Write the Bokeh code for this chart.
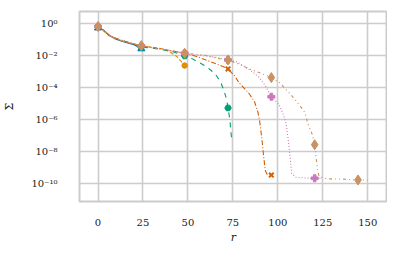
from bokeh.plotting import figure
from bokeh.models import FixedTicker, CustomJSTickFormatter, Range1d
from bokeh.embed import file_html
from bokeh.resources import INLINE

# ---- data ----
MARK_R = [0, 24.1, 48.2, 72.3, 96.4, 120.5, 144.6]

r_a = [0, 3, 6, 9, 12, 16, 20, 24.1]
s_a = [0.501, 0.380, 0.178, 0.112, 0.0832, 0.0603, 0.0447, 0.0251]

r_b = [0, 3, 6, 9, 12, 16, 20, 24.1, 30, 36, 40, 44, 48.2]
s_b = [0.617, 0.331, 0.166, 0.126, 0.0891, 0.0676, 0.0501, 0.0355, 0.0316, 0.0251, 0.0158, 0.00794, 0.00224]

r_c = [0, 3, 6, 9, 12, 16, 20, 24.1, 30, 36, 42, 48.2, 52, 56, 60, 63, 66, 68.4, 70, 71.6, 72.3, 73.3, 74, 74.5]
s_c = [0.617, 0.355, 0.186, 0.120, 0.0912, 0.0661, 0.0501, 0.0316, 0.0282, 0.0219, 0.0158, 0.00891,
       0.00631, 0.00355, 0.00200, 0.00110, 5.01e-4, 1.78e-4, 6.31e-5, 1.58e-5, 5.01e-6, 1.0e-6, 1.26e-7, 3.98e-8]

r_d = [0, 3, 6, 9, 12, 16, 20, 24.1, 30, 36, 42, 48.2, 54, 60, 66, 72.3, 76, 78.6, 82, 84, 87, 89, 90,
       91.2, 92.1, 93, 94, 96.4, 97]
s_d = [0.617, 0.355, 0.186, 0.120, 0.0912, 0.0661, 0.0501, 0.0380, 0.0295, 0.0234, 0.0178, 0.0132,
       0.00891, 0.00501, 0.00282, 0.00138, 5.01e-4, 1.78e-4, 7.08e-5, 3.98e-5, 1.26e-5, 2.51e-6, 6.31e-7,
       5.01e-8, 5.01e-9, 6.31e-10, 3.55e-10, 3.16e-10, 3.16e-10]

r_e = [0, 3, 6, 9, 12, 16, 20, 24.1, 30, 36, 42, 48.2, 54, 60, 66, 72.3, 76.7, 82, 86, 89.7, 93, 96.4,
       100.8, 103, 104.6, 105.8, 106.8, 107.7, 110, 115, 120.5, 124]
s_e = [0.617, 0.355, 0.186, 0.120, 0.0912, 0.0661, 0.0501, 0.0380, 0.0295, 0.0234, 0.0178, 0.0132,
       0.0105, 0.00891, 0.00708, 0.00501, 0.00398, 0.00178, 8.91e-4, 3.98e-4, 1.26e-4, 2.51e-5,
       7.94e-6, 2.0e-6, 5.62e-7, 5.01e-8, 5.01e-9, 3.98e-10, 2.34e-10, 2.09e-10, 2.0e-10, 2.0e-10]

r_f = [0, 3, 6, 9, 12, 16, 20, 24.1, 30, 36, 42, 48.2, 54, 59, 65.6, 72.3, 78, 84, 90, 96.4, 100.8, 107,
       110, 112.9, 115.1, 116.6, 119.3, 120.5, 121.2, 122.1, 123, 127.7, 136, 144.6, 150]
s_f = [0.617, 0.355, 0.186, 0.120, 0.0912, 0.0661, 0.0501, 0.0398, 0.0295, 0.0234, 0.0178, 0.0132,
       0.0117, 0.0105, 0.00646, 0.00501, 0.00282, 0.00141, 7.94e-4, 3.98e-4, 2.0e-4, 3.63e-5,
       1.45e-5, 5.62e-6, 2.51e-6, 5.62e-7, 1.0e-7, 2.51e-8, 5.01e-9, 6.31e-10, 2.51e-10, 1.86e-10,
       1.78e-10, 1.58e-10, 1.58e-10]

x_ticks = [0, 25, 50, 75, 100, 125, 150]
y_ticks = [1e-10, 1e-8, 1e-6, 1e-4, 1e-2, 1e0]

SERIES = [
    (r_a, s_a, "#0173b2", "solid", "triangle", 7),
    (r_b, s_b, "#de8f05", "4 2", "circle", 5.5),
    (r_c, s_c, "#029e73", "5 5", "hex", 6.5),
    (r_d, s_d, "#d55e00", "5 2 1 2", "x", 6.5),
    (r_e, s_e, "#cc78bc", "1 2", "plus", 7),
    (r_f, s_f, "#ca9161", "3 3 1 3 1 3", "diamond", 10),
]

FONT = "DejaVu Serif"

p = figure(width=385, height=243, frame_width=308, frame_height=190,
           y_axis_type="log", output_backend="svg", toolbar_location=None,
           x_range=Range1d(-10.3, 161), y_range=Range1d(10 ** -11.15, 10 ** 0.73),
           min_border_left=77, min_border_right=0, min_border_top=11, min_border_bottom=42)

for rs, ss, col, dash, mk, sz in SERIES:
    p.line(rs, ss, line_color=col, line_width=1.1, line_dash=dash)
    idx = [i for i, r in enumerate(rs) if r in MARK_R]
    mx = [rs[i] for i in idx]
    my = [ss[i] for i in idx]
    if mk == "x":
        p.scatter(mx, my, marker=mk, size=sz, line_color=col, line_width=2)
    else:
        p.scatter(mx, my, marker=mk, size=sz, fill_color=col, line_color=col)

p.xaxis.ticker = FixedTicker(ticks=x_ticks)
p.yaxis.ticker = FixedTicker(ticks=y_ticks, minor_ticks=[])
p.yaxis.formatter = CustomJSTickFormatter(code="""
const e = Math.round(Math.log10(tick));
const sup = {'-':'\u207b','0':'\u2070','1':'\u00b9','2':'\u00b2','3':'\u00b3','4':'\u2074',
             '5':'\u2075','6':'\u2076','7':'\u2077','8':'\u2078','9':'\u2079'};
return '10' + String(e).split('').map(c => sup[c]).join('');
""")

for ax in (p.xaxis[0], p.yaxis[0]):
    ax.axis_line_color = None
    ax.major_tick_line_color = None
    ax.minor_tick_line_color = None
    ax.major_label_text_font = FONT
    ax.major_label_text_font_size = "10px"
    ax.major_label_text_color = "#222222"
    ax.axis_label_text_font = FONT
    ax.axis_label_text_font_size = "11px"
    ax.axis_label_text_font_style = "normal"
    ax.axis_label_text_color = "#222222"

p.xaxis.axis_label = "r"
p.xaxis.axis_label_text_font_style = "italic"
p.yaxis.axis_label = "Σ"
p.xaxis.major_label_standoff = 11
p.yaxis.major_label_standoff = 16
p.xaxis.axis_label_standoff = 2
p.yaxis.axis_label_standoff = 12

p.xgrid.grid_line_color = "#cccccc"
p.ygrid.grid_line_color = "#cccccc"
p.xgrid.grid_line_width = 1.6
p.ygrid.grid_line_width = 1.6
p.ygrid.minor_grid_line_color = None

p.outline_line_color = "#cccccc"
p.outline_line_width = 2
p.background_fill_color = "white"
p.border_fill_color = "white"

open("out.html", "w").write(file_html(p, INLINE))
